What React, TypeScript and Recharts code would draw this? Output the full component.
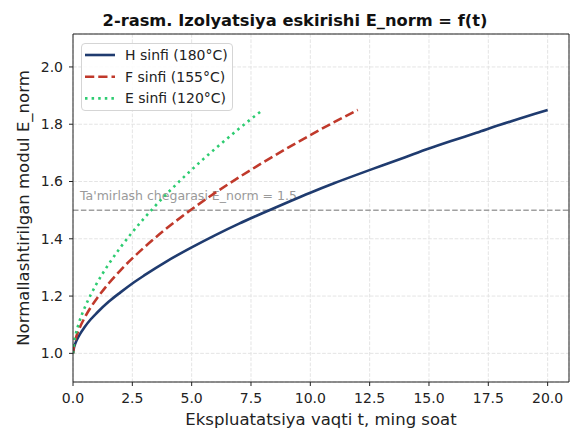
import React from "react";
import { LineChart, Line, XAxis, YAxis, CartesianGrid, ReferenceLine, Legend } from "recharts";

// vaqt (ming soat) va E_norm qiymatlari, rasmdan o'qilgan
const hTime = [0, 0.05, 0.1, 0.25, 0.5, 0.75, 1, 1.5, 2, 2.5, 3, 4, 5, 6, 7, 8, 9, 10, 11, 12, 13, 14, 15, 16, 17, 18, 19, 20];
const hValues = [1.0, 1.023, 1.035, 1.061, 1.093, 1.119, 1.141, 1.18, 1.213, 1.244, 1.272, 1.324, 1.37, 1.413, 1.453, 1.49, 1.526, 1.561, 1.594, 1.625, 1.655, 1.685, 1.715, 1.743, 1.77, 1.798, 1.824, 1.85];

const fTime = [0, 0.05, 0.1, 0.25, 0.5, 0.75, 1, 1.5, 2, 3, 4, 5, 6, 7, 8, 9, 10, 11, 12];
const fValues = [1.0, 1.032, 1.048, 1.083, 1.126, 1.161, 1.191, 1.244, 1.29, 1.37, 1.44, 1.503, 1.561, 1.615, 1.666, 1.715, 1.762, 1.807, 1.85];

const eTime = [0, 0.05, 0.1, 0.25, 0.5, 0.75, 1, 1.5, 2, 2.5, 3, 3.5, 4, 4.5, 5, 5.5, 6, 6.5, 7, 7.5, 8];
const eValues = [1.0, 1.04, 1.061, 1.106, 1.161, 1.205, 1.244, 1.311, 1.37, 1.423, 1.472, 1.518, 1.561, 1.602, 1.641, 1.679, 1.715, 1.75, 1.785, 1.818, 1.85];

const seriesNames = ["H sinfi (180°C)", "F sinfi (155°C)", "E sinfi (120°C)"];
const seriesColors = ["#1f3b6f", "#c0392b", "#2ecc71"];
const seriesDash = [undefined, "9.25 4", "2.5 4.1"];

const xTicks = [0, 2.5, 5, 7.5, 10, 12.5, 15, 17.5, 20];
const yTicks = [1.0, 1.2, 1.4, 1.6, 1.8, 2.0];
const threshold = 1.5;

const zip = (ts: number[], vs: number[]) => ts.map((t, i) => ({ t, E: vs[i] }));
const seriesData = [zip(hTime, hValues), zip(fTime, fValues), zip(eTime, eValues)];

const X_MAX = 20.9;
const Y_MIN = 0.9;
const Y_MAX = 2.115;

const FONT = "'DejaVu Sans', sans-serif";

const LegendBox = () => (
  <div
    style={{
      width: 150,
      height: 66,
      border: "1px solid #d5d5d5",
      borderRadius: 4,
      background: "rgba(255,255,255,0.85)",
    }}
  >
    <svg width={150} height={66}>
      {seriesNames.map((name, i) => {
        const y = 11 + i * 21.7;
        return (
          <g key={name}>
            <line x1={3} x2={33} y1={y} y2={y} stroke={seriesColors[i]} strokeWidth={2.6} strokeDasharray={seriesDash[i]} />
            <text x={43} y={y + 5} fontSize={14} fill="#222" fontFamily={FONT}>
              {name}
            </text>
          </g>
        );
      })}
    </svg>
  </div>
);

const ThresholdLabel = (props: any) => {
  const vb = props.viewBox || { x: 73, y: 210 };
  return (
    <text x={vb.x + 7} y={vb.y - 10.5} fontSize={12.5} fill="#9a9a9a" fontFamily={FONT}>
      Ta'mirlash chegarasi E_norm = 1.5
    </text>
  );
};

export default function App() {
  return (
    <div style={{ position: "absolute", left: 0, top: 0, width: 571, height: 434, fontFamily: FONT, background: "#fff" }}>
      <LineChart width={571} height={434} margin={{ top: 34, right: 2, bottom: 0, left: 0 }}>
        <CartesianGrid stroke="#e4e4e4" strokeDasharray="3.7 1.6" />
        <XAxis
          type="number"
          dataKey="t"
          domain={[0, X_MAX]}
          allowDataOverflow
          ticks={xTicks}
          tickFormatter={(v: number) => v.toFixed(1)}
          height={52}
          tickSize={4}
          tickMargin={7}
          stroke="#222"
          tick={{ fill: "#222", fontSize: 14 }}
          label={{ value: "Ekspluatatsiya vaqti t, ming soat", position: "insideBottom", offset: 9, fill: "#222", fontSize: 16.5 }}
        />
        <YAxis
          type="number"
          domain={[Y_MIN, Y_MAX]}
          allowDataOverflow
          ticks={yTicks}
          tickFormatter={(v: number) => v.toFixed(1)}
          width={73}
          tickSize={4}
          tickMargin={6}
          stroke="#222"
          tick={{ fill: "#222", fontSize: 14 }}
          label={{
            value: "Normallashtirilgan modul E_norm",
            angle: -90,
            position: "insideLeft",
            offset: 23,
            fill: "#222",
            fontSize: 16.5,
            style: { textAnchor: "middle" },
          }}
        />
        <ReferenceLine y={threshold} stroke="#a0a0a0" strokeWidth={1.5} strokeDasharray="5.5 2.4" label={ThresholdLabel} />
        <ReferenceLine x={X_MAX} stroke="#222" strokeWidth={1} />
        <ReferenceLine y={Y_MAX} stroke="#222" strokeWidth={1} />
        {seriesData.map((d, i) => (
          <Line
            key={seriesNames[i]}
            data={d}
            dataKey="E"
            name={seriesNames[i]}
            type="monotone"
            stroke={seriesColors[i]}
            strokeWidth={2.6}
            strokeDasharray={seriesDash[i]}
            dot={false}
            isAnimationActive={false}
          />
        ))}
        <Legend
          layout="horizontal"
          verticalAlign="middle"
          align="center"
          content={() => <LegendBox />}
          wrapperStyle={{ position: "absolute", left: 81, top: 43, width: 152, height: 68 }}
        />
      </LineChart>
      <svg width={571} height={434} style={{ position: "absolute", left: 0, top: 0, pointerEvents: "none" }}>
        <text x={295} y={25.5} textAnchor="middle" fontSize={16.3} fontWeight="bold" fill="#111" fontFamily={FONT}>
          2-rasm. Izolyatsiya eskirishi E_norm = f(t)
        </text>
      </svg>
    </div>
  );
}
